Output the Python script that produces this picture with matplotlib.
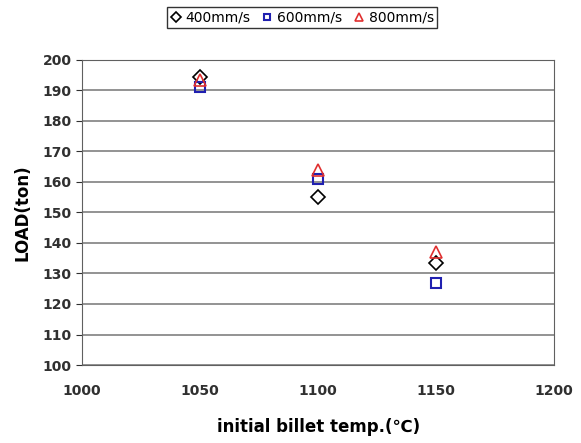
import matplotlib.pyplot as plt

temps = [1050, 1100, 1150]
load_400 = [194.5, 155, 133.5]
load_600 = [191, 161, 127]
load_800 = [193.5, 164, 137]

fig = plt.figure(figsize=(5.81, 4.43), dpi=100, facecolor='white')
ax = fig.add_axes([0.141, 0.176, 0.813, 0.689])

ax.plot(temps, load_400, linestyle='none', marker='D', markersize=7, mfc='none', mec='black', mew=1.2, label='400mm/s')
ax.plot(temps, load_600, linestyle='none', marker='s', markersize=7, mfc='none', mec='#2020b0', mew=1.5, label='600mm/s')
ax.plot(temps, load_800, linestyle='none', marker='^', markersize=9, mfc='none', mec='#e03030', mew=1.2, label='800mm/s')

ax.set_xlim(1000, 1200)
ax.set_ylim(100, 200)
ax.set_xticks(range(1000, 1201, 50))
ax.set_yticks(range(100, 201, 10))
ax.yaxis.grid(True, color='#808080', linewidth=1.2)
ax.set_axisbelow(True)
for s in ax.spines.values():
    s.set_color('#606060')
ax.tick_params(labelsize=10, length=4, colors='#303030')
ax.tick_params(axis='x', pad=14, length=0)
for lbl in ax.get_xticklabels() + ax.get_yticklabels():
    lbl.set_fontweight('bold')

ax.set_xlabel('initial billet temp.(℃)', fontsize=12, fontweight='bold', labelpad=14)
ax.set_ylabel('LOAD(ton)', fontsize=12, fontweight='bold', labelpad=8)

leg = fig.legend(loc='upper center', bbox_to_anchor=(0.52, 1.0), ncol=3, frameon=True, fancybox=False,
                 edgecolor='black', fontsize=10, handlelength=0.8, handletextpad=0.3, columnspacing=0.8,
                 borderpad=0.25, markerscale=0.7)
leg.get_frame().set_linewidth(1)

fig.savefig('out.png', dpi=100, facecolor='white')
